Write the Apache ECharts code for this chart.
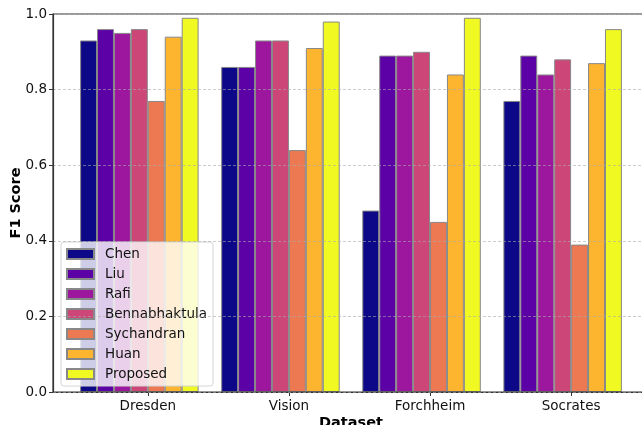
<!DOCTYPE html>
<html>
<head>
<meta charset="utf-8">
<script src="https://cdn.jsdelivr.net/npm/echarts@6/dist/echarts.min.js"></script>
<style>html,body{margin:0;padding:0;background:#fff;}#c{width:642px;height:425px;}</style>
</head>
<body>
<div id="c"></div>
<script>
const categories = ['Dresden', 'Vision', 'Forchheim', 'Socrates'];
const methods = ['Chen', 'Liu', 'Rafi', 'Bennabhaktula', 'Sychandran', 'Huan', 'Proposed'];
const chen = [0.93, 0.86, 0.48, 0.77];
const liu = [0.96, 0.86, 0.89, 0.89];
const rafi = [0.95, 0.93, 0.89, 0.84];
const bennabhaktula = [0.96, 0.93, 0.90, 0.88];
const sychandran = [0.77, 0.64, 0.45, 0.39];
const huan = [0.94, 0.91, 0.84, 0.87];
const proposed = [0.99, 0.98, 0.99, 0.96];
const yTicks = [0.0, 0.2, 0.4, 0.6, 0.8, 1.0];

const seriesValues = [chen, liu, rafi, bennabhaktula, sychandran, huan, proposed];
const colors = ['#0d0887', '#5c01a6', '#9c179e', '#cc4778', '#ed7953', '#fdb42f', '#f0f921'];
const W = 0.12; // bar width in data units
const nBars = methods.length;
const tickPos = categories.map((c, k) => k + W * 3.5);
const xMin = -W / 2 - 0.192, xMax = (categories.length - 1) + W * (nBars - 1) + W / 2 + 0.192;

const font = 'DejaVu Sans';
const chart = echarts.init(document.getElementById('c'), null, {renderer: 'canvas'});
chart.setOption({
  animation: false,
  color: colors,
  grid: {left: 53, top: 14, width: 596, height: 378, show: true, borderColor: '#333', borderWidth: 1.2, z: 5,
    containLabel: false, outerBoundsMode: 'none'},
  legend: {
    orient: 'vertical', left: 61, top: 242,
    data: methods.map(m => ({name: m, icon: 'rect'})),
    itemWidth: 27, itemHeight: 10, itemGap: 6,
    padding: [5, 6, 5, 5],
    backgroundColor: 'rgba(255,255,255,0.8)',
    borderColor: '#d5d5d5', borderWidth: 1, borderRadius: 3,
    textStyle: {fontFamily: font, fontSize: 13.5, color: '#111', lineHeight: 14, padding: [0, 0, 0, 6]}
  },
  xAxis: {
    type: 'value', min: xMin, max: xMax,
    name: 'Dataset', nameLocation: 'middle', nameGap: 24, nameMoveOverlap: false,
    nameTextStyle: {fontFamily: font, fontSize: 14.5, fontWeight: 'bold', color: '#000', verticalAlign: 'top'},
    axisLine: {show: true, onZero: false, lineStyle: {color: '#333', width: 1.2}},
    axisTick: {show: true, length: 4, lineStyle: {color: '#333'}, customValues: tickPos},
    axisLabel: {fontFamily: font, fontSize: 13.5, color: '#111', margin: 7, customValues: tickPos,
      formatter: function (v) { const k = Math.round(v - W * 3.5); return categories[k] || ''; }},
    splitLine: {show: false}
  },
  yAxis: {
    type: 'value', min: 0, max: 1, interval: 0.2, z: 10,
    name: 'F1 Score', nameLocation: 'middle', nameGap: 29, nameRotate: 90, nameMoveOverlap: false,
    nameTextStyle: {fontFamily: font, fontSize: 14.5, fontWeight: 'bold', color: '#000'},
    axisLine: {show: true, onZero: false, lineStyle: {color: '#333', width: 1.2}},
    axisTick: {show: true, length: 4, lineStyle: {color: '#333'}},
    axisLabel: {fontFamily: font, fontSize: 13.5, color: '#111', margin: 6,
      formatter: function (v) { const t = yTicks.find(x => Math.abs(x - v) < 1e-9); return (t === undefined ? v : t).toFixed(1); }},
    splitLine: {show: true, lineStyle: {color: 'rgba(170,170,170,0.6)', type: [3, 2], width: 1}}
  },
  series: methods.map((m, i) => ({
    name: m, type: 'bar',
    barWidth: W * 141, barGap: '-100%',
    itemStyle: {color: colors[i], borderColor: '#888', borderWidth: 1},
    data: seriesValues[i].map((v, k) => [k + i * W, v])
  }))
});
</script>
</body>
</html>
